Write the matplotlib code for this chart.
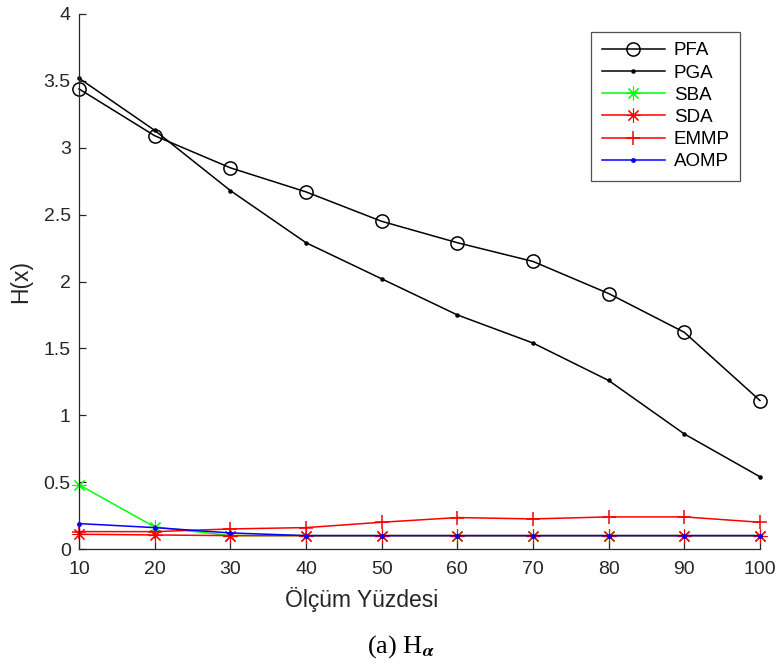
import matplotlib
matplotlib.use("Agg")
import matplotlib.pyplot as plt

plt.rcParams['font.family'] = ['Liberation Sans', 'DejaVu Sans']
plt.rcParams['mathtext.fontset'] = 'stix'

x = [10, 20, 30, 40, 50, 60, 70, 80, 90, 100]
pfa = [3.44, 3.09, 2.85, 2.67, 2.45, 2.29, 2.15, 1.91, 1.62, 1.11]
pga = [3.52, 3.13, 2.68, 2.29, 2.02, 1.75, 1.54, 1.26, 0.86, 0.54]
sba = [0.48, 0.165, 0.10, 0.10, 0.10, 0.10, 0.10, 0.10, 0.10, 0.10]
sda = [0.11, 0.105, 0.10, 0.10, 0.10, 0.10, 0.10, 0.10, 0.10, 0.10]
emmp = [0.13, 0.13, 0.15, 0.16, 0.20, 0.235, 0.225, 0.24, 0.24, 0.20]
aomp = [0.19, 0.16, 0.12, 0.10, 0.10, 0.10, 0.10, 0.10, 0.10, 0.10]
labels = ['PFA', 'PGA', 'SBA', 'SDA', 'EMMP', 'AOMP']

fig = plt.figure(figsize=(7.79, 6.71), dpi=100)
ax = fig.add_axes([79/779, 1-549/671, 681/779, 535/671])

ast = (8, 2, 0)
kw = dict(lw=1.1, clip_on=False)
ax.plot(x, pfa, color='black', marker='o', ms=9.5, mfc='none', mew=1.1, label=labels[0], **kw)
ax.plot(x, pga, color='black', marker='.', ms=4.5, label=labels[1], **kw)
ax.plot(x, sba, color='#00ff00', marker=ast, ms=10, mew=0.8, label=labels[2], **kw)
ax.plot(x, sda, color='red', marker=ast, ms=10, mew=0.8, label=labels[3], **kw)
ax.plot(x, emmp, color='red', marker='+', ms=10.5, mew=1.1, label=labels[4], **kw)
ax.plot(x, aomp, color='blue', marker='.', ms=5, label=labels[5], **kw)

ax.set_xlim(10, 100)
ax.set_ylim(0, 4)
ax.set_xticks(x)
ax.set_yticks([0, 0.5, 1, 1.5, 2, 2.5, 3, 3.5, 4])
ax.set_yticklabels(['0', '0.5', '1', '1.5', '2', '2.5', '3', '3.5', '4'])
for s in ['top', 'right']:
    ax.spines[s].set_visible(False)
for s in ['left', 'bottom']:
    ax.spines[s].set_color('#262626')
    ax.spines[s].set_linewidth(0.9)
ax.tick_params(direction='in', length=5, width=0.9, colors='#262626', labelsize=14)
ax.tick_params(axis='x', pad=9)
ax.tick_params(axis='y', pad=6)
ax.set_ylabel('H(x)', fontsize=16.5, color='#262626', labelpad=8)
fig.text(362/779, 1-600/671, 'Ölçüm Yüzdesi', ha='center', va='center',
         fontsize=16.5, color='#262626')

leg = ax.legend(loc='upper right', bbox_to_anchor=(740/779, 1-32/671), bbox_transform=fig.transFigure,
                fontsize=13.5, frameon=True, fancybox=False, edgecolor='#262626',
                handlelength=3.4, handletextpad=0.45, borderpad=0.55, labelspacing=0.27, borderaxespad=0)
leg.get_frame().set_linewidth(0.9)

fig.text(401/779, 1-647/671, r'(a) H$_{\boldsymbol{\alpha}}$', ha='center', va='center',
         fontsize=19, family='Liberation Serif')

fig.savefig('out.png', dpi=100)
